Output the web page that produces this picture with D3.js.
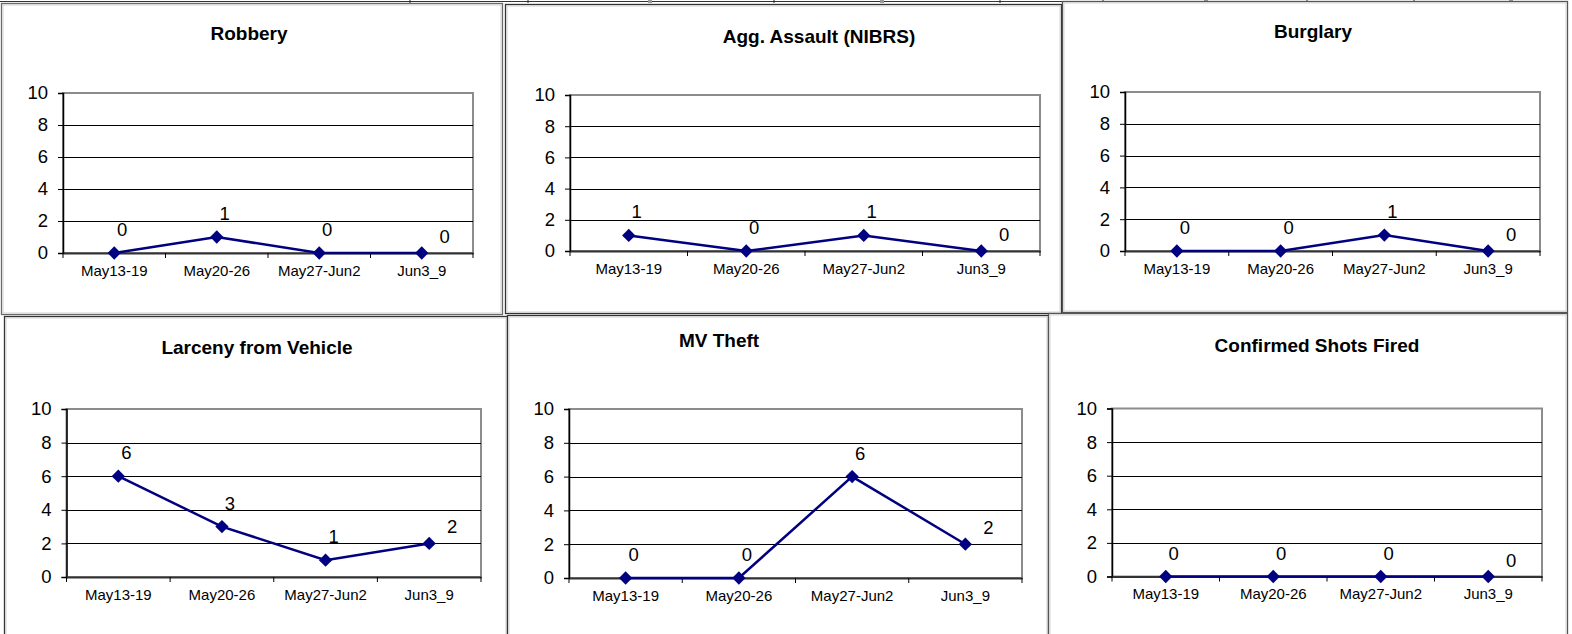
<!DOCTYPE html>
<html>
<head>
<meta charset="utf-8">
<script src="https://cdn.jsdelivr.net/npm/d3@7"></script>
<style>
  html, body { margin: 0; padding: 0; background: #fff; }
  svg { display: block; font-family: "Liberation Sans", Arial, sans-serif; }
</style>
</head>
<body>
<svg id="chart" width="1572" height="634"></svg>
<script>
// ---- data ----
const categories = ["May13-19", "May20-26", "May27-Jun2", "Jun3_9"];
const yTicks = [0, 2, 4, 6, 8, 10];
const titles = ["Robbery", "Agg. Assault (NIBRS)", "Burglary",
                "Larceny from Vehicle", "MV Theft", "Confirmed Shots Fired"];
const robbery            = [0, 1, 0, 0];
const aggAssault         = [1, 0, 1, 0];
const burglary           = [0, 0, 1, 0];
const larcenyFromVehicle = [6, 3, 1, 2];
const mvTheft            = [0, 0, 6, 2];
const shotsFired         = [0, 0, 0, 0];
const seriesList = [robbery, aggAssault, burglary, larcenyFromVehicle, mvTheft, shotsFired];

// ---- layout (pixel boxes for each panel) ----
const layout = [
  { frame: [1, 3, 502, 314],      plot: [63, 93, 473, 253],         title: [249, 40],  frameColor: "#6a6a6a" },
  { frame: [505, 4, 1061, 313],   plot: [570, 95, 1040, 251],       title: [819, 43],  frameColor: "#333" },
  { frame: [1062, 1, 1567, 312],  plot: [1125, 92, 1540, 251],      title: [1313, 38], frameColor: "#555" },
  { frame: [4, 316, 507, 645],    plot: [66.5, 409, 481, 577],      title: [257, 354], frameColor: "#333" },
  { frame: [507, 315, 1048, 645], plot: [569, 409, 1022, 578],      title: [719, 347], frameColor: "#333" },
  { frame: [1048, 313, 1567, 645],plot: [1112, 408.5, 1542, 576.5], title: [1317, 352], frameColor: "#555" }
];

const svg = d3.select("#chart");

// top strip remnants of a table
const strip = svg.append("g");
strip.append("line").attr("x1", 0).attr("x2", 1062).attr("y1", 1.5).attr("y2", 1.5)
  .attr("stroke", "#333").attr("stroke-width", 1.2);
[410, 528, 774, 1000, 1103, 1307, 1414].forEach(x => {
  strip.append("line").attr("x1", x).attr("x2", x).attr("y1", 0).attr("y2", 3)
    .attr("stroke", "#222").attr("stroke-width", 1);
});
[650, 882, 1206, 1511].forEach(x => {
  strip.append("rect").attr("x", x - 2).attr("y", 0).attr("width", 4).attr("height", 3)
    .attr("fill", "#999");
});

const diamond = d3.symbol().type(d3.symbolSquare).size(88);

seriesList.forEach((values, i) => {
  const L = layout[i];
  const g = svg.append("g");
  const [fx0, fy0, fx1, fy1] = L.frame;
  const [px0, py0, px1, py1] = L.plot;

  // panel frame
  g.append("rect").attr("x", fx0 + 0.5).attr("y", fy0 + 0.5)
    .attr("width", fx1 - fx0).attr("height", fy1 - fy0)
    .attr("fill", "#fff").attr("stroke", L.frameColor).attr("stroke-width", 1.3);
  g.append("rect").attr("x", fx0 + 2).attr("y", fy0 + 2)
    .attr("width", fx1 - fx0 - 3).attr("height", fy1 - fy0 - 3)
    .attr("fill", "none").attr("stroke", "#c8c8c8").attr("stroke-width", 0.8);

  const x = d3.scaleBand().domain(categories).range([px0, px1]).padding(0);
  const y = d3.scaleLinear().domain([0, 10]).range([py1, py0]);

  // plot area border (gray)
  g.append("rect").attr("x", px0).attr("y", py0)
    .attr("width", px1 - px0).attr("height", py1 - py0)
    .attr("fill", "#fff").attr("stroke", "#8c8c8c").attr("stroke-width", 2);

  // gridlines
  g.append("g").selectAll("line").data(yTicks.filter(t => t > 0 && t < 10)).join("line")
    .attr("x1", px0).attr("x2", px1)
    .attr("y1", d => Math.round(y(d)) + 0.5).attr("y2", d => Math.round(y(d)) + 0.5)
    .attr("stroke", "#000").attr("stroke-width", 1);

  // y axis
  const yAxis = d3.axisLeft(y).tickValues(yTicks).tickSize(5).tickPadding(10);
  const ya = g.append("g").attr("transform", `translate(${px0},0)`).call(yAxis);
  ya.select(".domain").attr("stroke", "#000").attr("stroke-width", 1.5);
  ya.selectAll(".tick line").attr("stroke", "#000");
  ya.selectAll(".tick text").attr("font-size", "18.5px").attr("fill", "#000")
    .attr("font-family", "Liberation Sans, Arial, sans-serif");

  // x axis
  const xAxis = d3.axisBottom(x).tickSize(0).tickPadding(12);
  const xa = g.append("g").attr("transform", `translate(0,${py1})`).call(xAxis);
  xa.select(".domain").attr("stroke", "#333").attr("stroke-width", 2);
  xa.selectAll(".tick text").attr("font-size", "15px").attr("fill", "#000")
    .attr("font-family", "Liberation Sans, Arial, sans-serif");
  // tick marks at category boundaries
  const bounds = categories.map(c => x(c)).concat([px1]);
  xa.selectAll(".bound").data(bounds).join("line").attr("class", "bound")
    .attr("x1", d => d).attr("x2", d => d).attr("y1", 0).attr("y2", 5)
    .attr("stroke", "#000").attr("stroke-width", 1);

  // line
  const cx = c => x(c) + x.bandwidth() / 2;
  const pts = categories.map((c, k) => [cx(c), y(values[k])]);
  g.append("path").attr("d", d3.line()(pts))
    .attr("fill", "none").attr("stroke", "#000080").attr("stroke-width", 2.5);

  // markers
  g.append("g").selectAll("path").data(pts).join("path")
    .attr("d", diamond)
    .attr("transform", d => `translate(${d[0]},${d[1]}) rotate(45)`)
    .attr("fill", "#000080");

  // data labels
  g.append("g").selectAll("text").data(values).join("text")
    .attr("x", (v, k) => pts[k][0] + (k === values.length - 1 ? 23 : 8))
    .attr("y", (v, k) => pts[k][1] - (k === values.length - 1 ? 10 : 17))
    .attr("text-anchor", "middle")
    .attr("font-size", "18.5px").attr("fill", "#000")
    .text(v => v);

  // title
  g.append("text").attr("x", L.title[0]).attr("y", L.title[1])
    .attr("text-anchor", "middle").attr("font-weight", "bold")
    .attr("font-size", "19px").attr("fill", "#000")
    .text(titles[i]);
});
</script>
</body>
</html>
